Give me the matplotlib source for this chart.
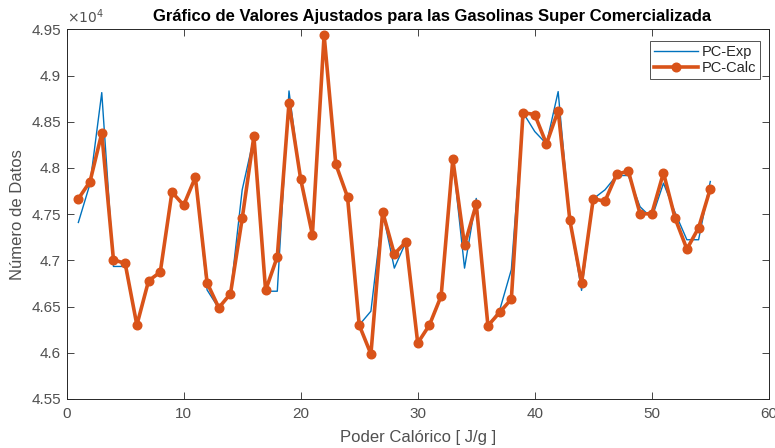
import matplotlib
matplotlib.use("Agg")
import matplotlib.pyplot as plt
from matplotlib import font_manager as fm
import numpy as np

names = {f.name for f in fm.fontManager.ttflist}
fam = [n for n in ["Liberation Sans Narrow", "Liberation Sans", "DejaVu Sans"] if n in names]
plt.rcParams['font.family'] = fam

x = list(range(1, 56))

pc_calc = [47666, 47853, 48376, 47006, 46967, 46300, 46779, 46873, 47738, 47597,
           47900, 46758, 46487, 46639, 47453, 48343, 46675, 47039, 48704, 47878,
           47277, 49439, 48040, 47687, 46300, 45986, 47525, 47068, 47201, 46105,
           46300, 46614, 48095, 47165, 47608, 46293, 46437, 46581, 48599, 48577,
           48260, 48621, 47432, 46754, 47666, 47640, 47932, 47965, 47504, 47504,
           47947, 47453, 47122, 47352, 47774]

pc_exp = [47410, 47830, 48815, 46934, 46934, 46300, 46779, 46873, 47738, 47597,
          47900, 46680, 46480, 46639, 47763, 48330, 46666, 46666, 48833, 47850,
          47277, 49439, 48040, 47687, 46300, 46450, 47525, 46916, 47201, 46105,
          46300, 46614, 48095, 46916, 47670, 46293, 46460, 46900, 48599, 48394,
          48260, 48826, 47432, 46675, 47666, 47763, 47918, 47918, 47580, 47457,
          47835, 47514, 47223, 47223, 47853]

yticks = [45500, 46000, 46500, 47000, 47500, 48000, 48500, 49000, 49500]
ytick_labels = ["4.55", "4.6", "4.65", "4.7", "4.75", "4.8", "4.85", "4.9", "4.95"]
xticks = [0, 10, 20, 30, 40, 50, 60]

axcol = "#262626"
txtcol = "#505050"
fig = plt.figure(figsize=(7.75, 4.48), dpi=100)
ax = fig.add_axes([0.086, 0.1094, 0.906, 0.8252])

ax.plot(x, pc_exp, color="#0072BD", lw=1.0, label="PC-Exp")
ax.plot(x, pc_calc, color="#D95319", lw=2.6, marker="o", markersize=6.2,
        label="PC-Calc")

ax.set_xlim(0, 60)
ax.set_ylim(45500, 49500)
ax.set_xticks(xticks)
ax.set_yticks(yticks)
ax.set_yticklabels(ytick_labels)
ax.tick_params(direction="in", top=True, right=True, length=5, width=0.6,
               colors=axcol, labelcolor=txtcol, labelsize=11)
ax.tick_params(axis="x", pad=6)
ax.tick_params(axis="y", pad=4)
for s in ax.spines.values():
    s.set_color(axcol)
    s.set_linewidth(0.7)

ax.set_xlabel("Poder Calórico [ J/g ]", fontsize=12, color=txtcol, labelpad=6)
ax.set_ylabel("Número de Datos", fontsize=12, color=txtcol, labelpad=5)
ax.set_title("Gráfico de Valores Ajustados para las Gasolinas Super Comercializada",
             fontsize=12.0, fontweight="bold", color="black", pad=6, x=0.52)
ax.text(0.0, 1.008, r"$\times10^{4}$", transform=ax.transAxes, fontsize=10,
        color=txtcol, ha="left", va="bottom")

leg = ax.legend(loc="upper right", fontsize=10.5, frameon=True, fancybox=False,
                bbox_to_anchor=(0.988, 0.967), borderaxespad=0.0,
                handlelength=3.0, borderpad=0.25,
                labelspacing=0.15, handletextpad=0.3)
leg.get_frame().set_edgecolor(axcol)
leg.get_frame().set_linewidth(0.7)
for t in leg.get_texts():
    t.set_color(axcol)

fig.savefig("out.png", dpi=100)
